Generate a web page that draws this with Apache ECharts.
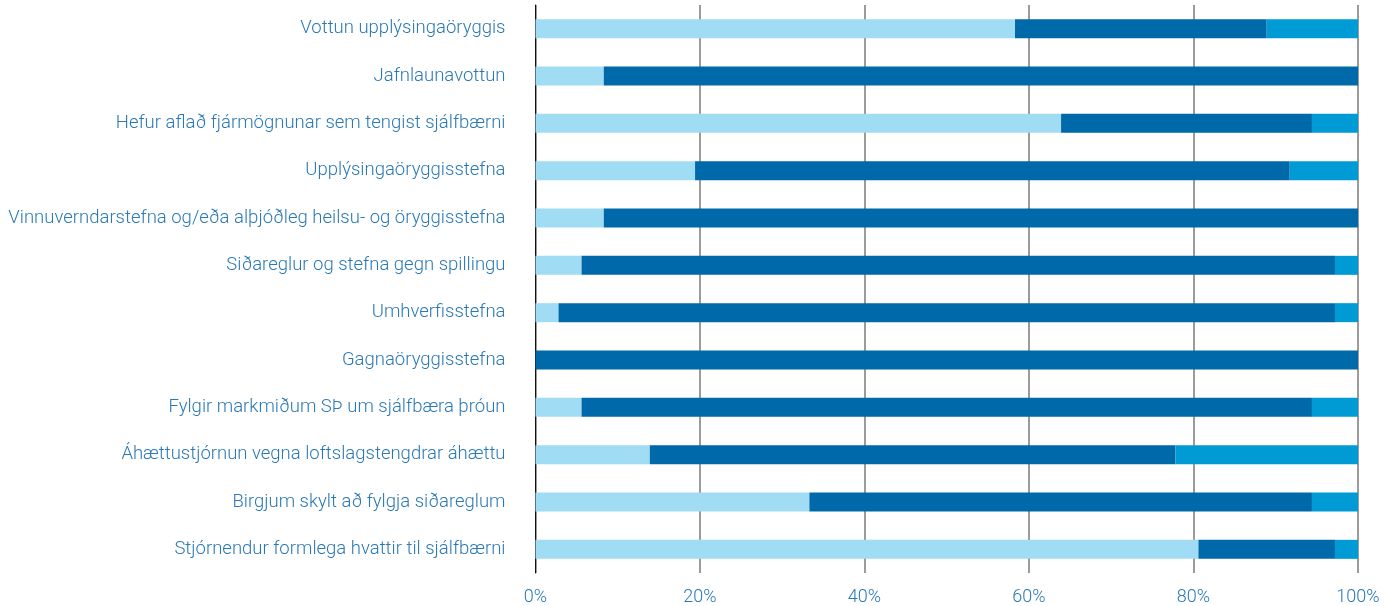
<!DOCTYPE html>
<html>
<head>
<meta charset="utf-8">
<script src="https://cdn.jsdelivr.net/npm/echarts@6/dist/echarts.min.js"></script>
<style>html,body{margin:0;padding:0;background:#fff;}#c{width:1399px;height:606px;}</style>
</head>
<body>
<div id="c"></div>
<script>
const categories = [
  "Vottun upplýsingaöryggis",
  "Jafnlaunavottun",
  "Hefur aflað fjármögnunar sem tengist sjálfbærni",
  "Upplýsingaöryggisstefna",
  "Vinnuverndarstefna og/eða alþjóðleg heilsu- og öryggisstefna",
  "Siðareglur og stefna gegn spillingu",
  "Umhverfisstefna",
  "Gagnaöryggisstefna",
  "Fylgir markmiðum SÞ um sjálfbæra þróun",
  "Áhættustjórnun vegna loftslagstengdrar áhættu",
  "Birgjum skylt að fylgja siðareglum",
  "Stjórnendur formlega hvattir til sjálfbærni"
];
const seriesLight  = [58.3, 8.3, 63.9, 19.4, 8.3, 5.6, 2.8, 0, 5.6, 13.9, 33.3, 80.6];
const seriesDark   = [30.6, 91.7, 30.5, 72.3, 91.7, 91.6, 94.4, 100, 88.8, 63.9, 61.1, 16.6];
const seriesMedium = [11.1, 0, 5.6, 8.3, 0, 2.8, 2.8, 0, 5.6, 22.2, 5.6, 2.8];
const tickValues = [0, 20, 40, 60, 80, 100];

const textColor = '#2a78b6';
const font = 'Roboto, "Open Sans", sans-serif';

const chart = echarts.init(document.getElementById('c'));
function bar(name, data, color) {
  return {
    name: name, type: 'bar', stack: 'total', data: data, barWidth: 19,
    itemStyle: { color: color }, silent: true
  };
}
chart.setOption({
  animation: false,
  grid: { left: 535.5, right: 41, top: 5, bottom: 33, containLabel: false },
  xAxis: {
    type: 'value', min: 0, max: 100, interval: 20,
    axisLine: { show: false }, axisTick: { show: false },
    splitLine: { show: true, lineStyle: { color: '#7a7a7a', width: 1.5 } },
    axisLabel: {
      color: textColor, fontFamily: font, fontSize: 18, fontWeight: 300, margin: 15,
      formatter: v => tickValues.includes(v) ? v + '%' : ''
    }
  },
  yAxis: {
    type: 'category', data: categories, inverse: true,
    axisLine: { show: true, lineStyle: { color: '#111', width: 1 } },
    axisTick: { show: false },
    axisLabel: { color: textColor, fontFamily: font, fontSize: 18.5, fontWeight: 300, margin: 30 }
  },
  series: [
    bar('A', seriesLight, '#a0dcf3'),
    bar('B', seriesDark, '#0069aa'),
    bar('C', seriesMedium, '#009ad5')
  ]
});
</script>
</body>
</html>
